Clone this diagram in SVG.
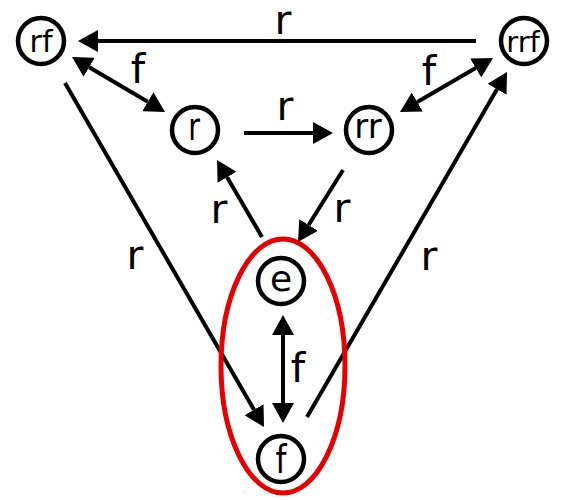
<svg xmlns="http://www.w3.org/2000/svg" width="565" height="500" viewBox="0 0 565 500">
<style>
.node circle{fill:#fff;stroke:#000;stroke-width:4.5}
.node text{font-family:"DejaVu Sans",Verdana,sans-serif;text-anchor:middle;fill:#000}
.edge{stroke:#000;stroke-width:4;fill:none}
.lbl{font-family:"DejaVu Sans",Verdana,sans-serif;font-size:41px;text-anchor:middle;fill:#000}
</style>
<defs>
<marker id="ah" viewBox="0 -11 20 22" refX="0" refY="0" markerWidth="20" markerHeight="22" markerUnits="userSpaceOnUse" orient="auto-start-reverse">
<path d="M0,-11 L20,0 L0,11 z" fill="#000"/>
</marker>
</defs>
<rect width="565" height="500" fill="#fff"/>
<g id="connectors">
<line class="edge" x1="476" y1="41" x2="98" y2="41" marker-end="url(#ah)"/>
<line class="edge" x1="89.2" y1="67.2" x2="147.8" y2="101.8" marker-start="url(#ah)" marker-end="url(#ah)"/>
<line class="edge" x1="244" y1="133" x2="313" y2="133" marker-end="url(#ah)"/>
<line class="edge" x1="417.3" y1="102" x2="475.7" y2="68" marker-start="url(#ah)" marker-end="url(#ah)"/>
<line class="edge" x1="262" y1="237" x2="227.1" y2="177.3" marker-end="url(#ah)"/>
<line class="edge" x1="343" y1="170" x2="308.6" y2="225" marker-end="url(#ah)"/>
<line class="edge" x1="283" y1="335" x2="283" y2="403" marker-start="url(#ah)" marker-end="url(#ah)"/>
<line class="edge" x1="65" y1="83" x2="254" y2="409.7" marker-end="url(#ah)"/>
<line class="edge" x1="307" y1="417" x2="497" y2="89.3" marker-end="url(#ah)"/>
<text class="lbl" x="283" y="34">r</text>
<text class="lbl" x="138" y="83">f</text>
<text class="lbl" x="285" y="120">r</text>
<text class="lbl" x="429" y="85">f</text>
<text class="lbl" x="219" y="223">r</text>
<text class="lbl" x="342" y="222">r</text>
<text class="lbl" x="298" y="382">f</text>
<text class="lbl" x="135" y="269">r</text>
<text class="lbl" x="429" y="270">r</text>
</g>
<g id="group-ellipse">
<ellipse cx="283" cy="366" rx="62" ry="127" fill="none" stroke="#e60000" stroke-width="5"/>
</g>
<g id="node-rf" class="node"><circle cx="41" cy="41" r="23"/><text font-size="30" transform="translate(41,52)">rf</text></g>
<g id="node-r" class="node"><circle cx="195" cy="130" r="23"/><text font-size="38" transform="translate(194,140) scale(0.75,1)">r</text></g>
<g id="node-rr" class="node"><circle cx="369" cy="130" r="23"/><text font-size="34" transform="translate(368,138)">rr</text></g>
<g id="node-rrf" class="node"><circle cx="524" cy="41" r="23"/><text font-size="29" transform="translate(523,52)">rrf</text></g>
<g id="node-e" class="node"><circle cx="281" cy="281" r="23"/><text font-size="36" transform="translate(281,291)">e</text></g>
<g id="node-f" class="node"><circle cx="281" cy="459" r="23"/><text font-size="39" transform="translate(281,473) scale(0.8,1)">f</text></g>
</svg>
